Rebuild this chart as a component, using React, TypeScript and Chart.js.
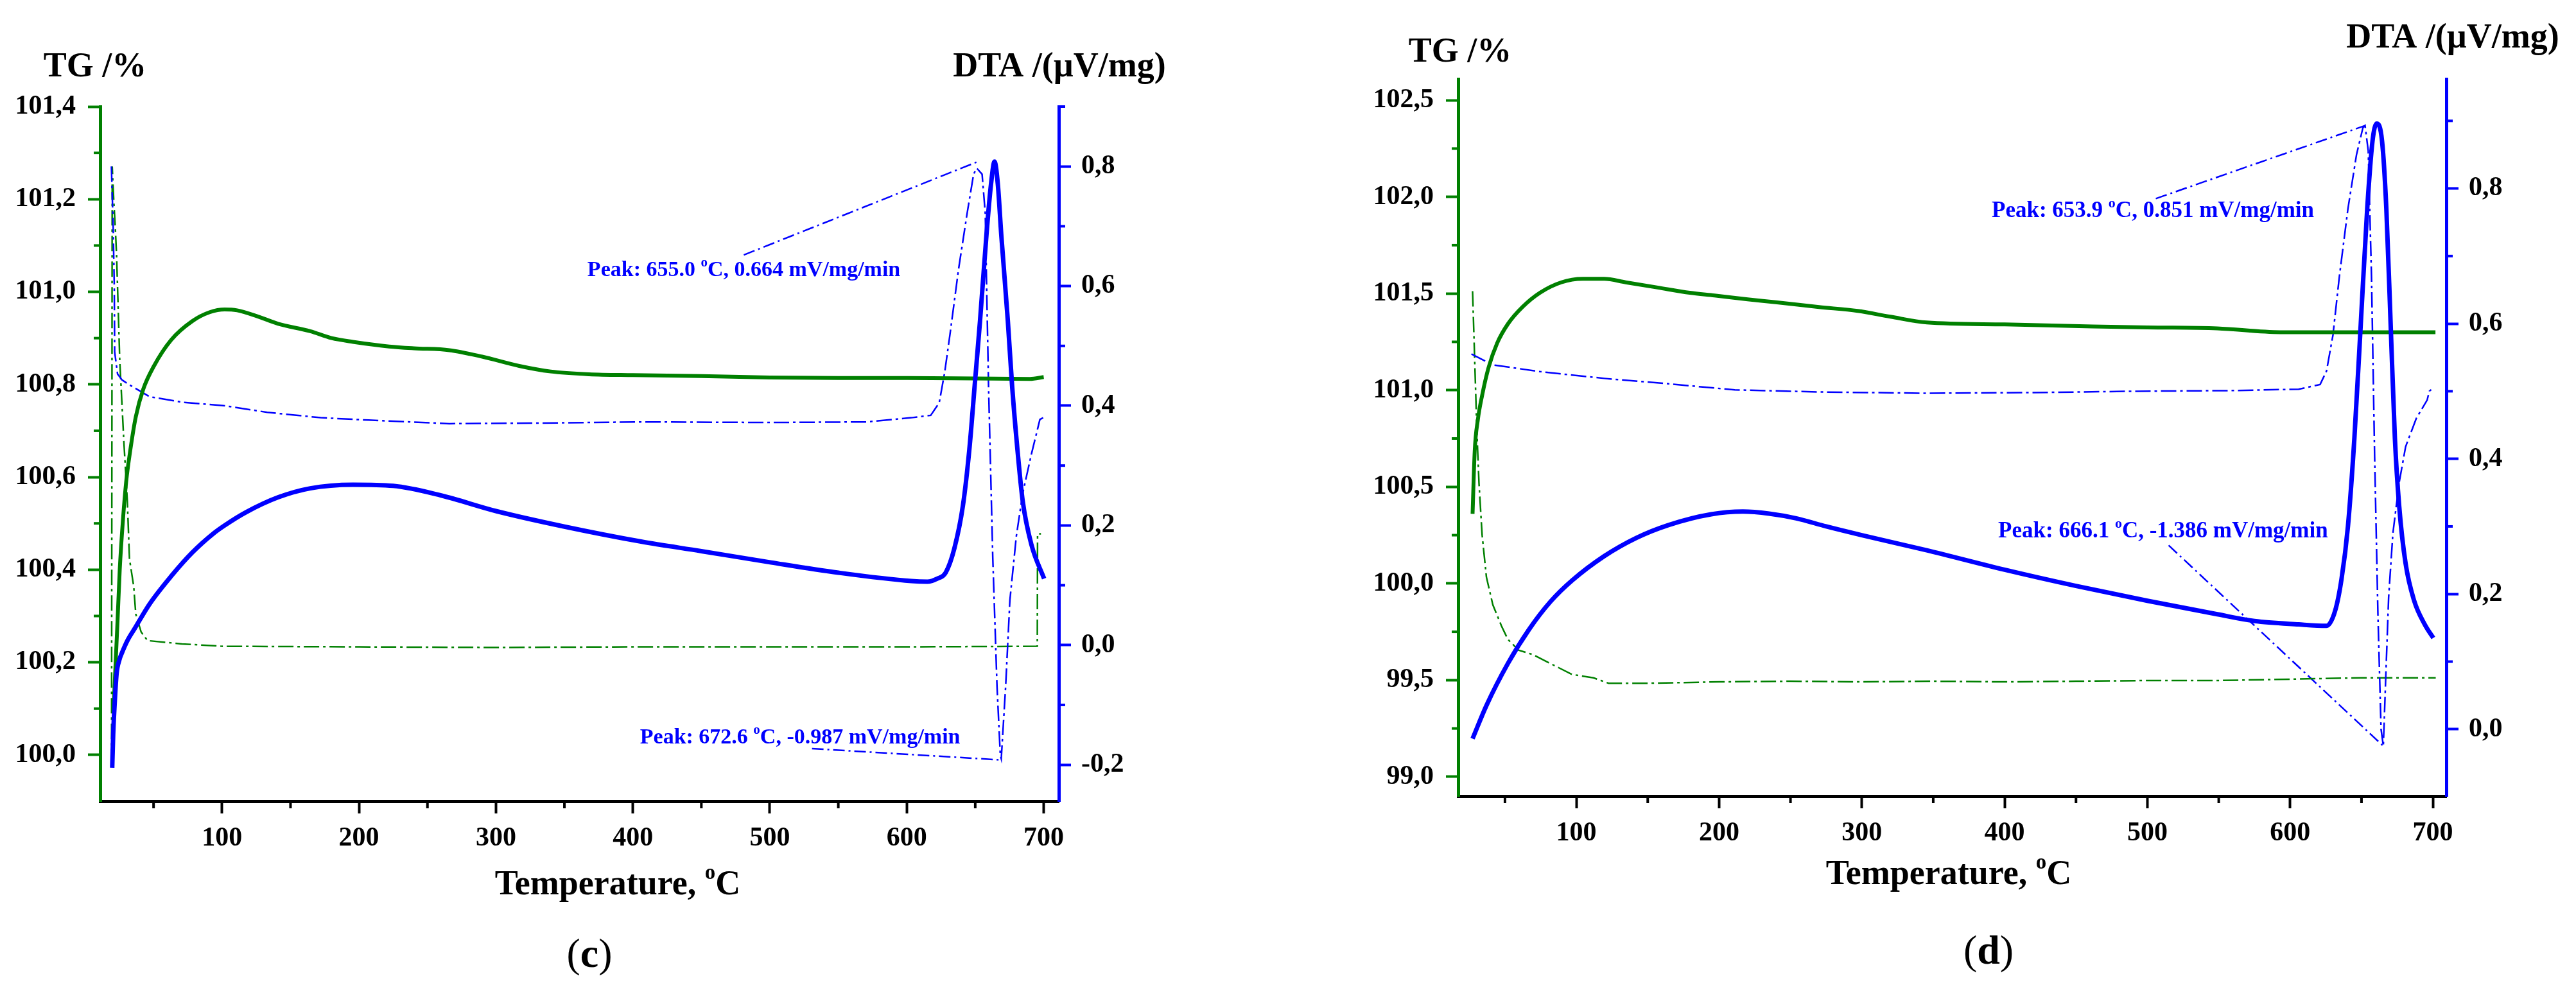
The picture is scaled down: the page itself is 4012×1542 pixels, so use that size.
import { useEffect, useRef } from 'react'
import { Chart, registerables } from 'chart.js'

Chart.register(...registerables)

const GREEN = '#008000'
const BLUE = '#0000ff'
const SERIF = "'Liberation Serif', 'Times New Roman', serif"

// ---------- panel (c) ----------
const cTgT = [20.8, 21.4, 23.7, 25.3, 27.7, 30, 33.1, 37, 42.5, 50.3, 62.8, 78.4, 91, 101.9, 111, 125, 141, 164.4, 180, 195.6, 222, 240, 266, 290, 317, 340, 368, 400, 450, 500, 550, 600, 650, 690, 700]
const cTg = [100.10, 100.14, 100.29, 100.40, 100.51, 100.59, 100.66, 100.73, 100.79, 100.84, 100.896, 100.937, 100.956, 100.962, 100.96, 100.948, 100.931, 100.915, 100.90, 100.892, 100.882, 100.878, 100.874, 100.86, 100.84, 100.828, 100.822, 100.82, 100.818, 100.815, 100.814, 100.814, 100.813, 100.812, 100.816]

const cDtaT = [19.8, 20.5, 21.4, 23, 25, 26.9, 31, 36.3, 47.2, 62.8, 78.4, 94, 101.9, 117.5, 141, 164.4, 195.6, 225, 260, 300, 350, 406, 450, 501, 550, 603.4, 615, 622.2, 628.4, 634.7, 641, 645.7, 649.6, 653.5, 658.2, 661.5, 664.1, 666.5, 669, 673.8, 676.9, 680.8, 684.7, 691, 700.3]
const cDta = [-0.205, -0.15, -0.106, -0.048, -0.025, -0.013, 0.008, 0.028, 0.069, 0.115, 0.155, 0.187, 0.200, 0.222, 0.247, 0.262, 0.268, 0.266, 0.25, 0.224, 0.198, 0.173, 0.157, 0.138, 0.121, 0.107, 0.106, 0.111, 0.121, 0.161, 0.233, 0.327, 0.434, 0.542, 0.686, 0.77, 0.808, 0.77, 0.686, 0.542, 0.434, 0.327, 0.24, 0.168, 0.111]

const cDdtaT = [19.2, 20.5, 21.3, 21.6, 23.7, 27, 31.6, 47.2, 70.6, 101.9, 133, 172, 207, 266, 330, 406, 500, 571, 603.4, 617.5, 623.7, 627.7, 631.6, 637.8, 644.1, 648.8, 651.1, 655, 657.3, 659.7, 662.8, 665.9, 668.3, 669, 672.2, 675.3, 680, 684.7, 691, 697.2, 699.6]
const cDdta = [0.80, 0.70, 0.60, 0.49, 0.453, 0.443, 0.436, 0.415, 0.406, 0.40, 0.389, 0.38, 0.376, 0.37, 0.371, 0.373, 0.372, 0.373, 0.38, 0.384, 0.405, 0.456, 0.52, 0.628, 0.722, 0.787, 0.797, 0.787, 0.722, 0.434, 0.146, -0.069, -0.184, -0.19, -0.069, 0.075, 0.182, 0.254, 0.319, 0.377, 0.38]

const cDtgT = [19.3, 19.8, 21, 22, 23, 25.3, 28.4, 30.8, 32.4, 35.5, 37, 40.9, 45.6, 70.6, 100, 200, 300, 400, 500, 600, 695.3, 695.5, 698]
const cDtg = [-0.2, 0.80, 0.74, 0.70, 0.651, 0.476, 0.336, 0.243, 0.144, 0.098, 0.052, 0.022, 0.0075, 0.002, -0.002, -0.003, -0.004, -0.003, -0.003, -0.003, -0.002, 0.186, 0.186]

const cLead1T = [481, 651.9]
const cLead1 = [0.652, 0.808]
const cLead2T = [530.8, 669]
const cLead2 = [-0.173, -0.192]

const cPeakText = ['Peak: 655.0 ºC, 0.664 mV/mg/min', 'Peak: 672.6 ºC, -0.987 mV/mg/min']
const cPeakT = [366.8, 405.2]
const cPeakY = [0.626, -0.155]

const cTgTicks = [100.0, 100.2, 100.4, 100.6, 100.8, 101.0, 101.2, 101.4]
const cTgMinor = [100.1, 100.3, 100.5, 100.7, 100.9, 101.1, 101.3]
const cDtaTicks = [-0.2, 0.0, 0.2, 0.4, 0.6, 0.8]
const cDtaMinor = [-0.1, 0.1, 0.3, 0.5, 0.7, 0.9]

// ---------- panel (d) ----------
const dTgT = [27.3, 28.8, 31, 34, 38.5, 44.5, 52, 62.5, 74.5, 89.5, 104.5, 119.5, 134.5, 157, 179.5, 196.8, 220, 239.6, 270, 297, 320, 345.5, 400, 461.7, 500, 549, 593, 650, 701.8]
const dTg = [100.36, 100.685, 100.847, 100.973, 101.117, 101.243, 101.342, 101.432, 101.504, 101.558, 101.576, 101.576, 101.558, 101.531, 101.504, 101.49, 101.47, 101.455, 101.43, 101.41, 101.38, 101.35, 101.34, 101.33, 101.325, 101.32, 101.30, 101.30, 101.30]

const dDtaT = [27.3, 37, 52, 67, 82, 97, 119.5, 142, 164.5, 194.5, 216.7, 235, 254, 275, 300, 345, 400, 450, 500, 549, 575, 606, 625.5, 631.5, 636, 640.5, 645, 649.5, 654, 657.7, 660.6, 664.4, 667.4, 670.4, 673.4, 676.4, 680.9, 686.9, 694.3, 700.3]
const dDta = [-0.014, 0.035, 0.097, 0.148, 0.189, 0.22, 0.256, 0.283, 0.302, 0.318, 0.322, 0.319, 0.312, 0.3, 0.287, 0.265, 0.236, 0.212, 0.19, 0.17, 0.16, 0.155, 0.153, 0.175, 0.222, 0.30, 0.43, 0.60, 0.77, 0.87, 0.896, 0.87, 0.77, 0.60, 0.43, 0.33, 0.245, 0.19, 0.155, 0.135]

const dDdtaT = [26.5, 41.5, 74.5, 119.5, 164.5, 211, 268.5, 345, 420, 491, 560, 606, 621, 625.5, 630, 634.5, 640.5, 646.5, 651, 652.5, 654.7, 657, 659.2, 661.5, 663.7, 665.3, 666.7, 669, 672, 676.4, 680.9, 688.4, 696, 697.5, 700.3]
const dDdta = [0.555, 0.539, 0.529, 0.519, 0.511, 0.502, 0.499, 0.497, 0.498, 0.5, 0.501, 0.503, 0.51, 0.53, 0.583, 0.67, 0.77, 0.85, 0.89, 0.893, 0.856, 0.67, 0.403, 0.17, 0.0, -0.025, 0.06, 0.195, 0.29, 0.365, 0.418, 0.46, 0.487, 0.5, 0.505]

const dDtgT = [27.3, 28.8, 30.3, 31.8, 34, 37, 41.5, 47.5, 52, 59.5, 70, 82, 97, 112, 122.5, 150, 200, 250, 300, 350, 400, 450, 500, 550, 600, 650, 702]
const dDtg = [0.648, 0.545, 0.442, 0.364, 0.287, 0.225, 0.184, 0.153, 0.133, 0.117, 0.11, 0.097, 0.081, 0.076, 0.068, 0.068, 0.07, 0.071, 0.07, 0.071, 0.07, 0.071, 0.072, 0.072, 0.074, 0.076, 0.076]

const dLead1T = [505.9, 652.5]
const dLead1 = [0.785, 0.893]
const dLead2T = [514.9, 665.3]
const dLead2 = [0.272, -0.025]

const dPeakText = ['Peak: 653.9 ºC, 0.851 mV/mg/min', 'Peak: 666.1 ºC, -1.386 mV/mg/min']
const dPeakT = [391, 395.5]
const dPeakY = [0.766, 0.292]

const dTgTicks = [99.0, 99.5, 100.0, 100.5, 101.0, 101.5, 102.0, 102.5]
const dTgMinor = [99.25, 99.75, 100.25, 100.75, 101.25, 101.75, 102.25]
const dDtaTicks = [0.0, 0.2, 0.4, 0.6, 0.8]
const dDtaMinor = [0.1, 0.3, 0.5, 0.7, 0.9]

// shared temperature axis
const tempTicks = [100, 200, 300, 400, 500, 600, 700]
const tempMinor = [50, 150, 250, 350, 450, 550, 650]

const W = 2006
const H = 1542

const xy = (xs: number[], ys: number[]) => xs.map((x, i) => ({ x, y: ys[i] }))
const comma = (v: number) => Number(v).toFixed(1).replace('.', ',')

// text with "º" drawn as a raised small o
function drawRich(ctx: CanvasRenderingContext2D, text: string, x: number, y: number, size: number, align: string, color: string) {
  const font = `bold ${size}px ${SERIF}`
  const supFont = `bold ${Math.round(size * 0.62)}px ${SERIF}`
  const parts = text.split('º')
  ctx.font = font
  const widths = parts.map(p => ctx.measureText(p).width)
  ctx.font = supFont
  const sw = ctx.measureText('o').width
  const total = widths.reduce((a, b) => a + b, 0) + sw * (parts.length - 1)
  let cx = align === 'center' ? x - total / 2 : align === 'right' ? x - total : x
  ctx.fillStyle = color
  ctx.textBaseline = 'middle'
  ctx.textAlign = 'left'
  parts.forEach((p, i) => {
    ctx.font = font
    ctx.fillText(p, cx, y)
    cx += widths[i]
    if (i < parts.length - 1) {
      ctx.font = supFont
      ctx.fillText('o', cx, y - size * 0.34)
      cx += sw
    }
  })
}

type Panel = {
  name: string
  tgT: number[]; tg: number[]
  dtaT: number[]; dta: number[]
  ddtaT: number[]; ddta: number[]
  dtgT: number[]; dtg: number[]
  leads: number[][][]
  peakText: string[]; peakT: number[]; peakY: number[]
  xMin: number; xMax: number
  tgMin: number; tgMax: number; tgTicks: number[]; tgMinor: number[]
  dtaMin: number; dtaMax: number; dtaTicks: number[]; dtaMinor: number[]
  peakSize: number
  area: { left: number; top: number; right: number; bottom: number }
  tgTitle: number[]; dtaTitle: number[]; xTitle: number[]; tag: number[]
}

const panels: Panel[] = [
  {
    name: 'c',
    tgT: cTgT, tg: cTg, dtaT: cDtaT, dta: cDta, ddtaT: cDdtaT, ddta: cDdta, dtgT: cDtgT, dtg: cDtg,
    leads: [[cLead1T, cLead1], [cLead2T, cLead2]],
    peakText: cPeakText, peakT: cPeakT, peakY: cPeakY,
    xMin: 11, xMax: 711,
    tgMin: 99.9, tgMax: 101.4, tgTicks: cTgTicks, tgMinor: cTgMinor,
    dtaMin: -0.261, dtaMax: 0.9, dtaTicks: cDtaTicks, dtaMinor: cDtaMinor,
    peakSize: 34,
    area: { left: 156, top: 166, right: 1649, bottom: 1248 },
    tgTitle: [148, 105], dtaTitle: [1650, 105], xTitle: [962, 1379], tag: [918, 1489],
  },
  {
    name: 'd',
    tgT: dTgT, tg: dTg, dtaT: dDtaT, dta: dDta, ddtaT: dDdtaT, ddta: dDdta, dtgT: dDtgT, dtg: dDtg,
    leads: [[dLead1T, dLead1], [dLead2T, dLead2]],
    peakText: dPeakText, peakT: dPeakT, peakY: dPeakY,
    xMin: 17.2, xMax: 709.4,
    tgMin: 98.9, tgMax: 102.61, tgTicks: dTgTicks, tgMinor: dTgMinor,
    dtaMin: -0.099, dtaMax: 0.962, dtaTicks: dDtaTicks, dtaMinor: dDtaMinor,
    peakSize: 35,
    area: { left: 265, top: 123, right: 1804, bottom: 1240 },
    tgTitle: [268, 82], dtaTitle: [1814, 60], xTitle: [1029, 1363], tag: [1091, 1484],
  },
]

function makeConfig(p: Panel): any {
  const wr = 150
  const hb = 100
  const tickFont = { family: SERIF, size: 42, weight: 'bold' as const }
  const dashDot = [24, 6, 4, 6]

  const decor = {
    id: 'decor' + p.name,
    afterDraw(chart: any) {
      const ctx: CanvasRenderingContext2D = chart.ctx
      const { left, right, bottom } = chart.chartArea
      const sx = chart.scales.x, sy = chart.scales.y, sy2 = chart.scales.y2
      ctx.save()
      // minor ticks
      ctx.lineWidth = 4
      ctx.strokeStyle = '#000'
      tempMinor.forEach(v => {
        const px = sx.getPixelForValue(v)
        ctx.beginPath(); ctx.moveTo(px, bottom); ctx.lineTo(px, bottom + 11); ctx.stroke()
      })
      ctx.strokeStyle = GREEN
      p.tgMinor.forEach(v => {
        const py = sy.getPixelForValue(v)
        ctx.beginPath(); ctx.moveTo(left, py); ctx.lineTo(left - 10, py); ctx.stroke()
      })
      ctx.strokeStyle = BLUE
      p.dtaMinor.forEach(v => {
        const py = sy2.getPixelForValue(v)
        ctx.beginPath(); ctx.moveTo(right, py); ctx.lineTo(right + 10, py); ctx.stroke()
      })

      drawRich(ctx, 'TG /%', p.tgTitle[0], p.tgTitle[1], 54, 'center', '#000')
      drawRich(ctx, 'DTA /(µV/mg)', p.dtaTitle[0], p.dtaTitle[1], 54, 'center', '#000')
      drawRich(ctx, 'Temperature, ºC', p.xTitle[0], p.xTitle[1], 54, 'center', '#000')

      p.peakText.forEach((t, i) => {
        drawRich(ctx, t, sx.getPixelForValue(p.peakT[i]), sy2.getPixelForValue(p.peakY[i]), p.peakSize, 'left', BLUE)
      })

      // panel tag "(c)" / "(d)"
      const reg = `64px ${SERIF}`
      const bold = `bold 64px ${SERIF}`
      ctx.font = reg
      const pw = ctx.measureText('(').width
      const pw2 = ctx.measureText(')').width
      ctx.font = bold
      const lw = ctx.measureText(p.name).width
      let cx = p.tag[0] - (pw + lw + pw2) / 2
      ctx.fillStyle = '#000'
      ctx.textBaseline = 'middle'
      ctx.textAlign = 'left'
      ctx.font = reg; ctx.fillText('(', cx, p.tag[1]); cx += pw
      ctx.font = bold; ctx.fillText(p.name, cx, p.tag[1]); cx += lw
      ctx.font = reg; ctx.fillText(')', cx, p.tag[1])
      ctx.restore()
    },
  }

  const leadSets = p.leads.map((l, i) => ({
    label: 'lead' + i, data: xy(l[0], l[1]), yAxisID: 'y2',
    borderColor: BLUE, borderWidth: 2.5, borderDash: [18, 6, 3, 6],
  }))

  return {
    type: 'line',
    data: {
      datasets: [
        { label: 'DTA', data: xy(p.dtaT, p.dta), yAxisID: 'y2', borderColor: BLUE, borderWidth: 7, cubicInterpolationMode: 'monotone' },
        { label: 'TG', data: xy(p.tgT, p.tg), yAxisID: 'y', borderColor: GREEN, borderWidth: 6, cubicInterpolationMode: 'monotone' },
        { label: 'DDTA', data: xy(p.ddtaT, p.ddta), yAxisID: 'y2', borderColor: BLUE, borderWidth: 2.5, borderDash: dashDot },
        { label: 'DTG', data: xy(p.dtgT, p.dtg), yAxisID: 'y2', borderColor: GREEN, borderWidth: 2.5, borderDash: dashDot },
        ...leadSets,
      ],
    },
    options: {
      responsive: false,
      animation: false,
      devicePixelRatio: 1,
      layout: { padding: { left: 0, top: p.area.top, right: W - p.area.right - wr, bottom: H - p.area.bottom - hb } },
      elements: { point: { radius: 0 }, line: { tension: 0, fill: false } },
      plugins: { legend: { display: false }, tooltip: { enabled: false } },
      scales: {
        x: {
          type: 'linear', position: 'bottom', min: p.xMin, max: p.xMax,
          afterBuildTicks: (s: any) => { s.ticks = tempTicks.map(v => ({ value: v })) },
          afterFit: (s: any) => { s.height = hb },
          ticks: { font: tickFont, color: '#000', padding: 14, maxRotation: 0, callback: (v: any) => String(v) },
          grid: { drawOnChartArea: false, drawTicks: true, tickLength: 19, tickWidth: 4, tickColor: '#000', color: '#000' },
          border: { display: true, color: '#000', width: 5 },
        },
        y: {
          type: 'linear', position: 'left', min: p.tgMin, max: p.tgMax,
          afterBuildTicks: (s: any) => { s.ticks = p.tgTicks.map(v => ({ value: v })) },
          afterFit: (s: any) => { s.width = p.area.left },
          ticks: { font: tickFont, color: '#000', padding: 19, callback: (v: any) => comma(v) },
          grid: { drawOnChartArea: false, drawTicks: true, tickLength: 19, tickWidth: 4, tickColor: GREEN, color: GREEN },
          border: { display: true, color: GREEN, width: 5 },
        },
        y2: {
          type: 'linear', position: 'right', min: p.dtaMin, max: p.dtaMax,
          afterBuildTicks: (s: any) => { s.ticks = p.dtaTicks.map(v => ({ value: v })) },
          afterFit: (s: any) => { s.width = wr },
          ticks: { font: tickFont, color: '#000', padding: 16, callback: (v: any) => comma(v) },
          grid: { drawOnChartArea: false, drawTicks: true, tickLength: 19, tickWidth: 4, tickColor: BLUE, color: BLUE },
          border: { display: true, color: BLUE, width: 5 },
        },
      },
    },
    plugins: [decor],
  }
}

function PanelChart({ p, left }: { p: Panel; left: number }) {
  const ref = useRef<HTMLCanvasElement>(null)
  useEffect(() => {
    if (!ref.current) return
    const chart = new Chart(ref.current, makeConfig(p))
    return () => chart.destroy()
  }, [p])
  return (
    <canvas ref={ref} width={W} height={H}
      style={{ position: 'absolute', left, top: 0, width: W, height: H, display: 'block' }} />
  )
}

export default function App() {
  return (
    <div style={{ position: 'fixed', left: 0, top: 0, width: 4012, height: 1542, background: '#fff', overflow: 'hidden' }}>
      <PanelChart p={panels[0]} left={0} />
      <PanelChart p={panels[1]} left={2006} />
    </div>
  )
}
